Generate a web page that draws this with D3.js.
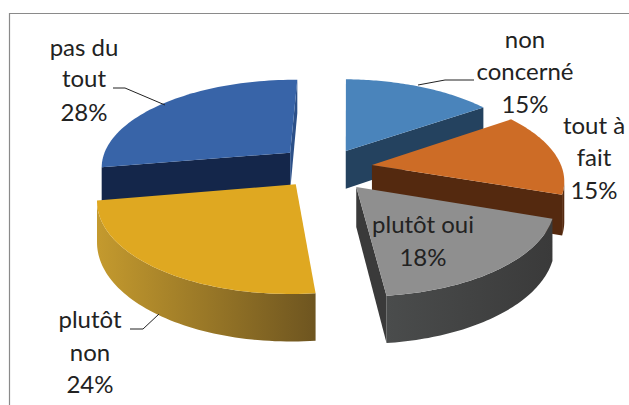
<!DOCTYPE html>
<html lang="fr">
<head>
    <meta charset="UTF-8">
    <title>Camembert</title>
    <script src="https://d3js.org/d3.v7.min.js"></script>
    <style>
        html, body { margin: 0; padding: 0; background: #fff; overflow: hidden; }
        text { font-family: Lato, sans-serif; font-size: 24px; fill: #222; text-anchor: middle; }
    </style>
</head>
<body>
    <div id="chart"></div>
    <script>
        // values, clockwise from 12 o'clock
        const categories = ["non concerné", "tout à fait", "plutôt oui", "plutôt non", "pas du tout"];
        const values = [15, 15, 18, 24, 28];
        const topColors = ["#4a84bb", "#cd6c26", "#8f8f8f", "#dfa821", "#3864a8"];
        const startFaceColors = ["#24425f", "#54290f", "#3a3a3a", "#8f6f22", "#14264a"];
        const endFaceColors = ["#24425f", "#54290f", "#3a3a3a", "#8f6f22", "#2c5088"];
        const wallStart = ["#24425f", "#a8541c", "#4a4c4c", "#c49a2e", "#2c5088"];
        const wallEnd = ["#24425f", "#54290f", "#3a3a3a", "#6e5520", "#14264a"];

        // label lines and their places
        const labelLines = [["non", "concerné", "15%"], ["tout à", "fait", "15%"], ["plutôt oui", "18%"], ["plutôt", "non", "24%"], ["pas du", "tout", "28%"]];
        const labelX = [525, 594, 423, 90, 84];
        const labelY = [[48, 80, 113], [134, 166, 199], [233, 266], [328, 361, 393], [56, 87, 121]];
        const leaders = [
            [[474, 80], [445, 80], [418, 85]],
            [[113, 88], [125, 88], [165, 105]],
            [[130, 329], [143, 329], [159, 314]]
        ];

        const width = 629, height = 405;
        const cx = 326, cy = 169, rx = 190, ry = 87.5, depth = 39;
        const persp = 0.15, explode = 0.24;
        const rotation = 1 * Math.PI / 180;
        // small per slice shifts, the original is not quite regular
        const nudgeX = [-1, 1, 1, -2, -2];
        const nudgeY = [0, -1, 1, -2, -3];

        const svg = d3.select("#chart").append("svg")
            .attr("width", width)
            .attr("height", height)
            .style("display", "block");

        // frame
        svg.append("path")
            .attr("d", "M9.5,405V13.5H629")
            .attr("fill", "none")
            .attr("stroke", "#8a8a8a")
            .attr("stroke-width", 1.2);

        const defs = svg.append("defs");
        const arcs = d3.pie().sort(null).startAngle(rotation).endAngle(2 * Math.PI + rotation).value(d => d)(values);
        const toPath = d3.line();

        // pie plane to screen, with the back of the pie squeezed
        function project(a, r, mid, i) {
            const X = r * Math.sin(a) + explode * Math.sin(mid);
            const Y = r * Math.cos(a) + explode * Math.cos(mid);
            const f = 1 / (1 + persp * Y);
            return { x: cx + nudgeX[i] + rx * X * f, y: cy + nudgeY[i] - ry * Y * f, d: depth * f };
        }

        // back slices first
        const drawOrder = [0, 4, 1, 3, 2];

        drawOrder.forEach(i => {
            const s = arcs[i];
            const mid = (s.startAngle + s.endAngle) / 2;
            const samples = d3.range(0, 61).map(k => s.startAngle + (s.endAngle - s.startAngle) * k / 60);
            const apex = project(0, 0, mid, i);
            const rim = samples.map(a => project(a, 1, mid, i));

            const g = svg.append("g").attr("class", "slice");

            // gradient across the round wall
            const grad = defs.append("linearGradient")
                .attr("id", "wall" + i)
                .attr("gradientUnits", "userSpaceOnUse")
                .attr("x1", d3.min(rim, p => p.x)).attr("x2", d3.max(rim, p => p.x))
                .attr("y1", 0).attr("y2", 0);
            grad.append("stop").attr("offset", 0).attr("stop-color", wallStart[i]);
            grad.append("stop").attr("offset", 1).attr("stop-color", wallEnd[i]);

            // only edges running leftwards on screen face the viewer
            function band(points, fill) {
                const top = points.map(p => [p.x, p.y]);
                const bottom = points.map(p => [p.x, p.y + p.d]).reverse();
                g.append("path").attr("d", toPath(top.concat(bottom)) + "Z").attr("fill", fill);
            }
            if (rim[0].x < apex.x) band([apex, rim[0]], startFaceColors[i]);
            const left = d3.range(rim.length - 1).filter(k => rim[k + 1].x < rim[k].x);
            if (left.length) band(rim.slice(left[0], left[left.length - 1] + 2), "url(#wall" + i + ")");
            if (apex.x < rim[rim.length - 1].x) band([rim[rim.length - 1], apex], endFaceColors[i]);

            g.append("path")
                .attr("d", toPath([apex].concat(rim).map(p => [p.x, p.y])) + "Z")
                .attr("fill", topColors[i]);
        });

        // leader lines
        leaders.forEach(l => {
            svg.append("path")
                .attr("d", toPath(l))
                .attr("fill", "none")
                .attr("stroke", "#222")
                .attr("stroke-width", 1);
        });

        // labels
        labelLines.forEach((lines, i) => {
            lines.forEach((t, j) => {
                svg.append("text")
                    .attr("x", labelX[i])
                    .attr("y", labelY[i][j])
                    .text(t);
            });
        });
    </script>
</body>
</html>
